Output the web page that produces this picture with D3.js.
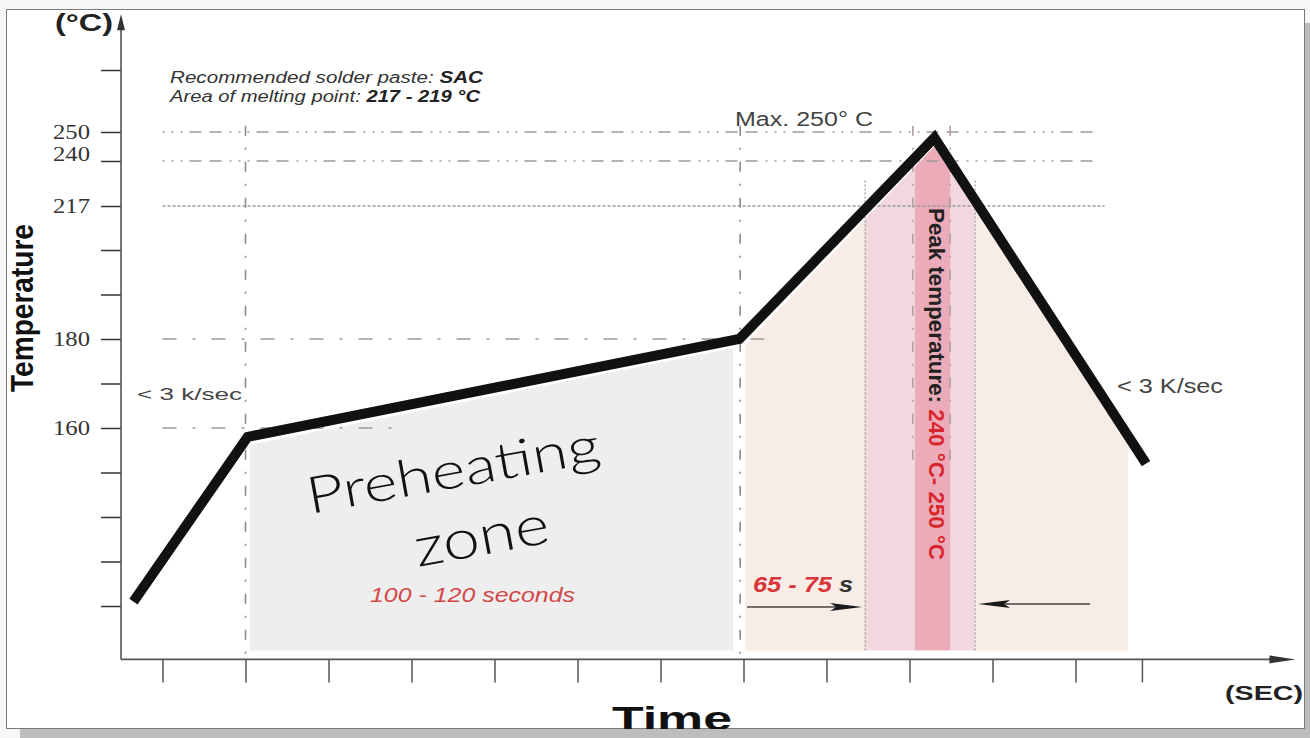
<!DOCTYPE html>
<html>
<head>
<meta charset="utf-8">
<script src="https://cdn.jsdelivr.net/npm/d3@7"></script>
<style>
  html, body { margin: 0; padding: 0; background: #f7f7f7; }
  svg { display: block; }
</style>
</head>
<body>
<svg id="chart" width="1310" height="738"></svg>
<script>
'use strict';

// ---- data (time in s, temperature in °C) ----
var timeTicks = [10, 30, 50, 70, 90, 110, 130, 150, 170, 190, 210, 230, 246];
var tempTicks = [120, 130, 140, 150, 160, 170, 180, 190, 200, 217, 240, 250, 270];
var tempLabels = [160, 180, 217, 240, 250];

var profileTime = [3, 30.5, 149, 196, 247];
var profileTemp = [121, 158, 180, 248, 152];

var preheatTime = [31, 31, 147.5, 147.5];
var preheatTemp = [110, 156.2, 178, 110];

var reflowTime = [150.4, 150.4, 196, 242.6, 242.6];
var reflowTemp = [110, 178.6, 245, 158.5, 110];

var peakBand = [179.3, 205.8];
var peakCore = [191.3, 199.8];

var guideTemp = [250, 240, 217, 180, 160];
var guideEnd = [235, 235, 237, 155, 67];
var guideStyle = ['dashdot', 'dashdot', 'dotted', 'longdash', 'longdash'];

var vGuideTime = [30, 149.2, 190.8, 199.8];

var baseTemp = 108, topTemp = 288, endTime = 283, floorTemp = 110;

// ---- scales (schematic y axis, piecewise) ----
var x = d3.scaleLinear().domain([0, 280]).range([121, 1283]);
var y = d3.scaleLinear()
  .domain([120, 160, 180, 200, 217, 240, 250, 270])
  .range([606, 428, 339, 250, 206, 161, 132, 70]);

var svg = d3.select('#chart');

function pts(ts, cs) {
  return ts.map(function (t, i) { return [x(t), y(cs[i])]; });
}
var line = d3.line();

function fit(sel, w) {
  return sel.attr('textLength', w).attr('lengthAdjust', 'spacingAndGlyphs');
}

var dashes = {
  dashdot: '2,7,2,7,2,7,12,8,12,8',
  dotted: '3,2',
  longdash: '14,16,3,16'
};

// frame
svg.append('rect').attr('x', 6.5).attr('y', 9.5).attr('width', 1298).attr('height', 719)
  .attr('fill', '#fff').attr('stroke', '#7a7a7a');

// ---- zones ----
svg.append('path').attr('d', line(pts(preheatTime, preheatTemp)) + 'Z').attr('fill', '#eeeeee');
svg.append('path').attr('d', line(pts(reflowTime, reflowTemp)) + 'Z').attr('fill', '#f8ece6');

svg.append('clipPath').attr('id', 'reflowClip')
  .append('path').attr('d', line(pts(reflowTime, reflowTemp)) + 'Z');

var bands = svg.append('g').attr('clip-path', 'url(#reflowClip)');
bands.append('rect')
  .attr('x', x(peakBand[0])).attr('width', x(peakBand[1]) - x(peakBand[0]))
  .attr('y', y(topTemp)).attr('height', y(floorTemp) - y(topTemp))
  .attr('fill', '#f2d8de');
bands.append('rect')
  .attr('x', x(peakCore[0])).attr('width', x(peakCore[1]) - x(peakCore[0]))
  .attr('y', y(topTemp)).attr('height', y(floorTemp) - y(topTemp))
  .attr('fill', '#ecabb9');

// ---- guide lines ----
var guides = svg.append('g').attr('fill', 'none').attr('stroke', '#9a9a9a').attr('stroke-width', 1.3);
guideTemp.forEach(function (c, i) {
  guides.append('line')
    .attr('x1', x(10)).attr('x2', x(guideEnd[i]))
    .attr('y1', y(c)).attr('y2', y(c))
    .attr('stroke-dasharray', dashes[guideStyle[i]]);
});
vGuideTime.forEach(function (t, i) {
  guides.append('line')
    .attr('x1', x(t)).attr('x2', x(t))
    .attr('y1', y(252)).attr('y2', i < 2 ? y(baseTemp) : y(152))
    .attr('stroke', i < 2 ? '#8a8a8a' : '#b0a0a4')
    .attr('stroke-width', 1.6)
    .attr('stroke-dasharray', '10,12,2,12');
});
peakBand.forEach(function (t) {
  guides.append('line')
    .attr('x1', x(t)).attr('x2', x(t))
    .attr('y1', y(230)).attr('y2', y(floorTemp))
    .attr('stroke', '#a0a0a0').attr('stroke-dasharray', '2,2');
});

// ---- profile ----
svg.append('path')
  .attr('d', line(pts(profileTime, profileTemp)))
  .attr('fill', 'none').attr('stroke', '#111').attr('stroke-width', 10)
  .attr('stroke-linejoin', 'miter');

// ---- axes ----
var y0 = y(baseTemp);
var xAxis = d3.axisBottom(x).tickValues(timeTicks).tickSize(23).tickFormat('');
var gx = svg.append('g').attr('transform', 'translate(0,' + y0 + ')').call(xAxis);
gx.select('.domain').remove();
gx.selectAll('.tick line').attr('stroke', '#555').attr('stroke-width', 1.5);

var yAxis = d3.axisLeft(y).tickValues(tempTicks).tickSize(20).tickPadding(11)
  .tickFormat(function (d) { return tempLabels.indexOf(d) >= 0 ? d : ''; });
var gy = svg.append('g').attr('transform', 'translate(' + x(0) + ',0)').call(yAxis);
gy.select('.domain').remove();
gy.selectAll('.tick line').attr('stroke', '#333').attr('stroke-width', 1.5);
gy.selectAll('.tick text')
  .attr('font-family', '"Liberation Serif", "Times New Roman", serif')
  .attr('font-size', 20).attr('fill', '#333')
  .attr('dy', function (d) { return d === 240 ? '-0.05em' : '0.32em'; })
  .each(function (d) { if (tempLabels.indexOf(d) >= 0) fit(d3.select(this), 37); });

svg.append('line').attr('x1', x(0)).attr('x2', x(endTime) - 20).attr('y1', y0).attr('y2', y0)
  .attr('stroke', '#555').attr('stroke-width', 1.6);
svg.append('path').attr('fill', '#333')
  .attr('d', 'M' + x(endTime) + ',' + y0 + 'L' + (x(endTime) - 26) + ',' + (y0 - 4) + 'L' + (x(endTime) - 26) + ',' + (y0 + 4) + 'Z');
svg.append('line').attr('x1', x(0)).attr('x2', x(0)).attr('y1', y0).attr('y2', y(topTemp) + 10)
  .attr('stroke', '#555').attr('stroke-width', 1.6);
svg.append('path').attr('fill', '#333')
  .attr('d', 'M' + x(0) + ',' + y(topTemp) + 'L' + (x(0) - 4) + ',' + (y(topTemp) + 16) + 'L' + (x(0) + 4) + ',' + (y(topTemp) + 16) + 'Z');

// ---- reflow arrows ----
function arrow(x1, x2, yy) {
  var dir = x2 > x1 ? 1 : -1;
  svg.append('line').attr('x1', x1).attr('x2', x2 - dir * 20).attr('y1', yy).attr('y2', yy)
    .attr('stroke', '#444').attr('stroke-width', 1.5);
  svg.append('path').attr('fill', '#1a1a1a')
    .attr('d', 'M' + x2 + ',' + yy + 'L' + (x2 - dir * 32) + ',' + (yy - 4) + 'L' + (x2 - dir * 26) + ',' + yy +
      'L' + (x2 - dir * 32) + ',' + (yy + 4) + 'Z');
}
arrow(x(reflowTime[0]) + 2, x(peakBand[0]) - 3, 607);
arrow(x(233.5), x(peakBand[1]) + 3, 604);

// ---- text ----
var sans = '"Liberation Sans", Arial, sans-serif';

fit(svg.append('text').attr('x', 55).attr('y', 31).attr('font-family', sans)
  .attr('font-weight', 'bold').attr('font-size', 23).attr('fill', '#222').text('(°C)'), 58);

var rec1 = svg.append('text').attr('x', 170).attr('y', 83).attr('font-family', sans)
  .attr('font-style', 'italic').attr('font-size', 16).attr('fill', '#333');
rec1.append('tspan').text('Recommended solder paste: ');
rec1.append('tspan').attr('font-weight', 'bold').attr('fill', '#222').text('SAC');
fit(rec1, 313);

var rec2 = svg.append('text').attr('x', 170).attr('y', 102).attr('font-family', sans)
  .attr('font-style', 'italic').attr('font-size', 16).attr('fill', '#333');
rec2.append('tspan').text('Area of melting point: ');
rec2.append('tspan').attr('font-weight', 'bold').attr('fill', '#222').text('217 - 219 °C');
fit(rec2, 310);

fit(svg.append('text').attr('transform', 'translate(33,308) rotate(-90)')
  .attr('text-anchor', 'middle').attr('font-family', sans).attr('font-weight', 'bold')
  .attr('font-size', 31).attr('fill', '#111').text('Temperature'), 168);

fit(svg.append('text').attr('x', 137).attr('y', 400).attr('font-family', sans)
  .attr('font-size', 16).attr('fill', '#444').text('< 3 k/sec'), 105);
fit(svg.append('text').attr('x', 1117).attr('y', 393).attr('font-family', sans)
  .attr('font-size', 20).attr('fill', '#444').text('< 3 K/sec'), 106);
fit(svg.append('text').attr('x', 735).attr('y', 126).attr('font-family', sans)
  .attr('font-size', 20).attr('fill', '#444').text('Max. 250° C'), 138);

var thin = 'Lato, "Open Sans", sans-serif';
fit(svg.append('text').attr('transform', 'translate(310,514) rotate(-10.2)')
  .attr('font-family', thin).attr('font-weight', 300).attr('font-size', 51)
  .attr('fill', '#111').text('Preheating'), 297);
fit(svg.append('text').attr('transform', 'translate(418,567) rotate(-10.5)')
  .attr('font-family', thin).attr('font-weight', 300).attr('font-size', 55)
  .attr('fill', '#111').text('zone'), 136);

fit(svg.append('text').attr('x', 370).attr('y', 602).attr('font-family', sans)
  .attr('font-style', 'italic').attr('font-size', 20).attr('fill', '#d24848')
  .text('100 - 120 seconds'), 205);

var sec = svg.append('text').attr('x', 753).attr('y', 592).attr('font-family', sans)
  .attr('font-style', 'italic').attr('font-weight', 'bold').attr('font-size', 22);
sec.append('tspan').attr('fill', '#d8343a').text('65 - 75');
sec.append('tspan').attr('fill', '#333').text(' s');
fit(sec, 100);

var peak = svg.append('text').attr('transform', 'translate(929,208) rotate(90)')
  .attr('font-family', sans).attr('font-size', 22).attr('font-weight', 'bold');
peak.append('tspan').attr('fill', '#222').text('Peak temperature: ');
peak.append('tspan').attr('fill', '#d8262e').text('240 °C- 250 °C');
fit(peak, 352);

fit(svg.append('text').attr('x', 612).attr('y', 730).attr('font-family', sans)
  .attr('font-weight', 'bold').attr('font-size', 34).attr('fill', '#111').text('Time'), 120);
fit(svg.append('text').attr('x', 1225).attr('y', 700).attr('font-family', sans)
  .attr('font-weight', 'bold').attr('font-size', 20).attr('fill', '#222').text('(SEC)'), 78);

// shadow of the frame
svg.append('rect').attr('x', 1305).attr('y', 23).attr('width', 5).attr('height', 715).attr('fill', '#bdbdbd');
svg.append('rect').attr('x', 20).attr('y', 729).attr('width', 1290).attr('height', 9).attr('fill', '#bdbdbd');
</script>
</body>
</html>
